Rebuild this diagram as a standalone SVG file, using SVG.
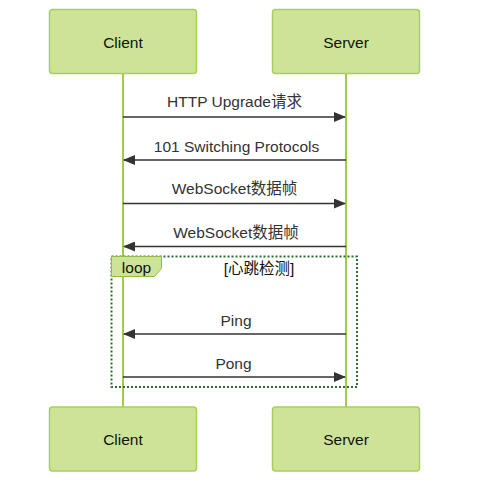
<svg xmlns="http://www.w3.org/2000/svg" width="477" height="490" viewBox="0 0 477 490">
<defs>
<marker id="arrow" viewBox="0 0 12 10" refX="11" refY="5" markerWidth="12" markerHeight="10" markerUnits="userSpaceOnUse" orient="auto">
<path d="M0,0 L12,5 L0,10 z" fill="#333333"/>
</marker>
</defs>
<style>
.actor{fill:#cde498;stroke:#a6d05a;stroke-width:1.5;}
.atext{font-family:"Liberation Sans","Noto Sans CJK SC",sans-serif;font-size:15.5px;fill:#111;text-anchor:middle;dominant-baseline:central;}
.life{stroke:#9fcd45;stroke-width:2;}
.msg{stroke:#333333;stroke-width:1.6;fill:none;marker-end:url(#arrow);}
.mtext{font-family:"Liberation Sans","Noto Sans CJK SC",sans-serif;font-size:15.5px;fill:#333;text-anchor:middle;}
.loop{fill:none;stroke:#2f6b2f;stroke-width:2;stroke-dasharray:2,2;}
.lbox{fill:#cde498;stroke:#8fbf3f;stroke-width:1;}
.ltext{font-family:"Liberation Sans","Noto Sans CJK SC",sans-serif;font-size:15.5px;fill:#111;text-anchor:middle;dominant-baseline:central;}
</style>
<rect width="477" height="490" fill="#ffffff"/>
<g id="lifelines">
<line class="life" x1="123" y1="73.5" x2="123" y2="407"/>
<line class="life" x1="346" y1="73.5" x2="346" y2="407"/>
</g>
<g id="client-top"><rect class="actor" x="49.5" y="9.5" width="147" height="64" rx="3"/><text class="atext" x="123" y="42">Client</text></g>
<g id="server-top"><rect class="actor" x="272.5" y="9.5" width="147" height="64" rx="3"/><text class="atext" x="346" y="42">Server</text></g>
<g id="client-bottom"><rect class="actor" x="49.5" y="407" width="147" height="64" rx="3"/><text class="atext" x="123" y="439.5">Client</text></g>
<g id="server-bottom"><rect class="actor" x="272.5" y="407" width="147" height="64" rx="3"/><text class="atext" x="346" y="439.5">Server</text></g>
<g id="loop-frame">
<rect class="loop" x="111.5" y="256.5" width="245.5" height="130.5"/>
<path class="lbox" d="M111.5,256.5 L161.5,256.5 L161.5,268.5 L154.5,276.5 L111.5,276.5 z"/>
<text class="ltext" x="136.5" y="267.5">loop</text>
<text class="ltext" x="259" y="268" fill="#000">[心跳检测]</text>
</g>
<g id="connectors">
<line class="msg" x1="123" y1="117" x2="345" y2="117"/>
<text class="mtext" x="234.5" y="107">HTTP Upgrade请求</text>
<line class="msg" x1="346" y1="160" x2="124" y2="160"/>
<text class="mtext" x="236.5" y="152">101 Switching Protocols</text>
<line class="msg" x1="123" y1="203.5" x2="345" y2="203.5"/>
<text class="mtext" x="234.5" y="194">WebSocket数据帧</text>
<line class="msg" x1="346" y1="246.5" x2="124" y2="246.5"/>
<text class="mtext" x="236" y="238">WebSocket数据帧</text>
<line class="msg" x1="346" y1="334" x2="124" y2="334"/>
<text class="mtext" x="236" y="326">Ping</text>
<line class="msg" x1="123" y1="377" x2="345" y2="377"/>
<text class="mtext" x="233.5" y="369">Pong</text>
</g>
</svg>
